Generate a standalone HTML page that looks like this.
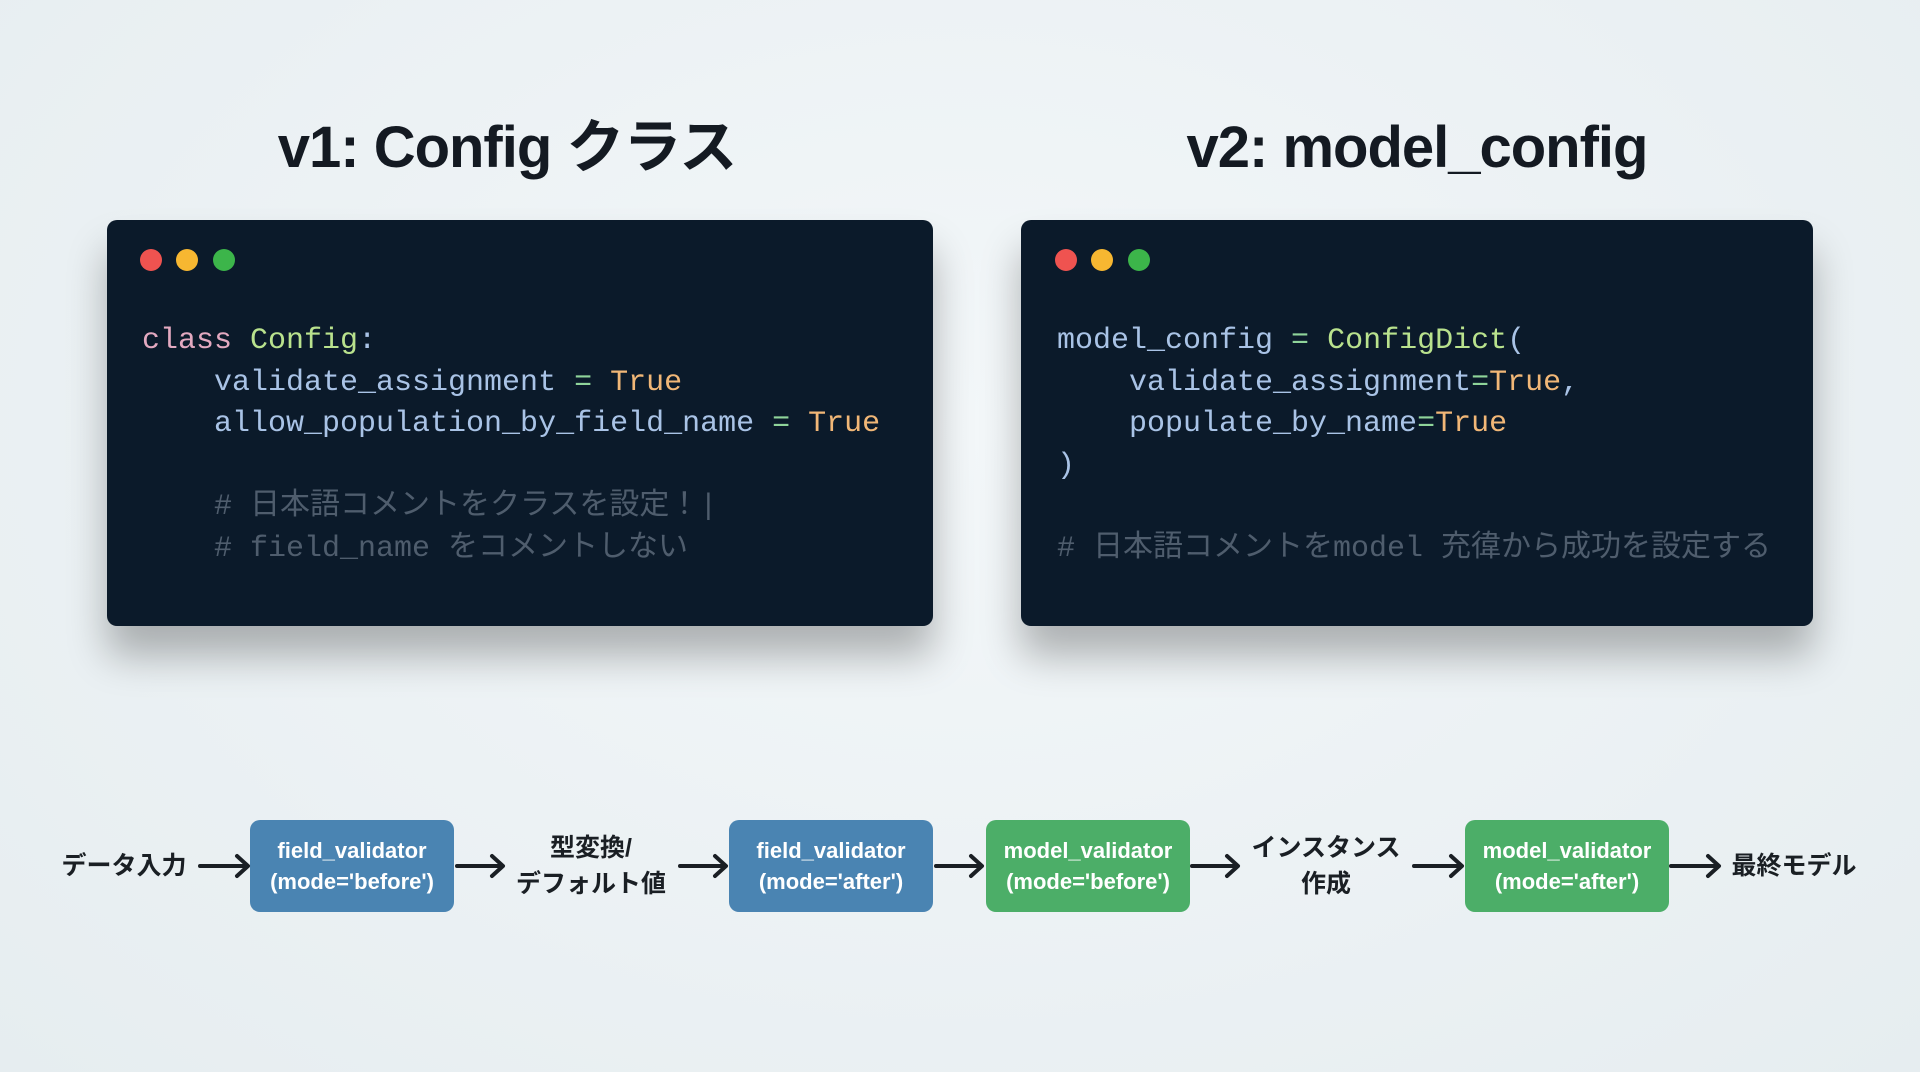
<!DOCTYPE html>
<html><head><meta charset="utf-8"><style>
*{margin:0;padding:0;box-sizing:border-box}
body{width:1920px;height:1072px;overflow:hidden;background:radial-gradient(ellipse at 50% 40%,#f3f7f9,#e6edf0);font-family:"Liberation Sans","Noto Sans CJK JP",sans-serif;position:relative}
.t{position:absolute;top:113px;font-size:58px;line-height:70px;height:70px;font-weight:bold;color:#141a22;text-align:center;width:800px;letter-spacing:-1px}
.card{position:absolute;top:220px;height:406px;background:#0b1a2a;border-radius:10px;box-shadow:0 30px 40px rgba(0,0,0,.28)}
.dot{position:absolute;top:249px;width:22px;height:22px;border-radius:50%}
.code{position:absolute;font-family:"Liberation Mono","Noto Sans CJK JP",monospace;font-size:30px;line-height:41.6px;white-space:pre;color:#a9c3e6}
.k{color:#e3a9c0}.g{color:#b9e28d}.o{color:#f1b777}.e{color:#8fd49a}.c{color:#4f5d6d}
.box{position:absolute;top:820px;height:92px;width:204px;border-radius:10px;color:#fff;font-weight:bold;font-size:22px;line-height:31px;text-align:center;padding-top:15px}
.b{background:#4a84b2}.gr{background:#4cae68}
.lab{position:absolute;font-weight:bold;font-size:25px;color:#1a1f24;text-align:center;line-height:36px}
svg{position:absolute;left:0;top:0}
</style></head><body>
<div class="t" style="left:107px">v1: Config クラス</div>
<div class="t" style="left:1017px">v2: model_config</div>

<div class="card" style="left:107px;width:826px"></div>
<div class="card" style="left:1021px;width:792px"></div>
<div class="dot" style="left:140px;background:#ef5350"></div>
<div class="dot" style="left:176px;background:#f7b731"></div>
<div class="dot" style="left:213px;background:#3cb54a"></div>
<div class="dot" style="left:1055px;background:#ef5350"></div>
<div class="dot" style="left:1091px;background:#f7b731"></div>
<div class="dot" style="left:1128px;background:#3cb54a"></div>

<div class="code" style="left:142px;top:321px"><span class="k">class</span> <span class="g">Config</span>:
    validate_assignment <span class="e">=</span> <span class="o">True</span>
    allow_population_by_field_name <span class="e">=</span> <span class="o">True</span>

<span class="c">    # 日本語コメントをクラスを設定！|</span>
<span class="c">    # field_name をコメントしない</span></div>

<div class="code" style="left:1057px;top:321px">model_config <span class="e">=</span> <span class="g">ConfigDict</span>(
    validate_assignment<span class="e">=</span><span class="o">True</span>,
    populate_by_name<span class="e">=</span><span class="o">True</span>
)

<span class="c"># 日本語コメントをmodel 充徫から成功を設定する</span></div>

<div class="box b" style="left:250px">field_validator<br>(mode='before')</div>
<div class="box b" style="left:729px">field_validator<br>(mode='after')</div>
<div class="box gr" style="left:986px">model_validator<br>(mode='before')</div>
<div class="box gr" style="left:1465px">model_validator<br>(mode='after')</div>

<div class="lab" style="left:54px;top:848px;width:140px">データ入力</div>
<div class="lab" style="left:501px;top:830px;width:180px">型変換/<br>デフォルト値</div>
<div class="lab" style="left:1236px;top:830px;width:180px">インスタンス<br>作成</div>
<div class="lab" style="left:1724px;top:848px;width:140px">最終モデル</div>

<svg width="1920" height="1072">
<g stroke="#1a1f24" stroke-width="4" fill="none" stroke-linecap="round" stroke-linejoin="round">
<path d="M200 866H247M237 856L248 866L237 876"/>
<path d="M457 866H502M492 856L503 866L492 876"/>
<path d="M680 866H725M715 856L726 866L715 876"/>
<path d="M936 866H981M971 856L982 866L971 876"/>
<path d="M1192 866H1237M1227 856L1238 866L1227 876"/>
<path d="M1414 866H1461M1451 856L1462 866L1451 876"/>
<path d="M1671 866H1718M1708 856L1719 866L1708 876"/>
</g></svg>
</body></html>
